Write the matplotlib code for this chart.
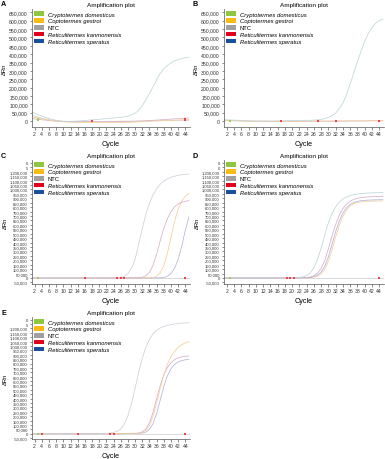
import matplotlib
matplotlib.use("Agg")
import matplotlib.pyplot as plt
from matplotlib.patches import Patch
import numpy as np

plt.rcParams['font.family'] = ['Liberation Sans', 'DejaVu Sans']

# ---------------- data ----------------
cycles = list(range(1, 46))
x_ticks = list(range(2, 45, 2))

legend_labels = ['Cryptotermes domesticus', 'Coptotermes gestroi', 'NTC',
                 'Reticulitermes kanmonensis', 'Reticulitermes speratus']

# Panel A
A_teal = [55000, 48000, 38000, 30000, 22000, 15000, 10000, 5000, 2000, 0,
          -1000, -1000, 0, 1000, 2000, 4000, 6000, 8000, 10000, 11000,
          13000, 15000, 17000, 19000, 21000, 23000, 26000, 30000, 38000, 48000,
          65000, 92000, 128000, 165000, 205000, 248000, 285000, 312000, 333000, 348000,
          360000, 368000, 374000, 379000, 382000]
A_orange = [25000, 22000, 18000, 14000, 10000, 6000, 3000, 0, -2000, -4000,
            -5000, -6000, -7000, -7000, -8000, -8000, -9000, -9000, -9000, -9000,
            -9000, -9000, -9000, -8000, -8000, -8000, -7000, -7000, -6000, -5000,
            -4000, -3000, -2000, -1000, 0, 1000, 2000, 3000, 4000, 5000,
            6000, 7000, 8000, 9000, 10000]
A_purple = [15000, 13000, 11000, 8000, 6000, 4000, 2000, 0, -1000, -2000,
            -3000, -3000, -4000, -4000, -4000, -4000, -4000, -4000, -4000, -4000,
            -4000, -4000, -3000, -3000, -3000, -2000, -2000, -2000, -1000, -1000,
            0, 1000, 2000, 3000, 5000, 6000, 8000, 9000, 11000, 12000,
            14000, 15000, 17000, 18000, 19000]
A_gray = [35000, 30000, 24000, 18000, 13000, 9000, 5000, 2000, 0, -2000,
          -3000, -3000, -3000, -3000, -3000, -3000, -2000, -2000, -2000, -2000,
          -2000, -1000, -1000, -1000, -1000, 0, 0, 0, 0, 0,
          1000, 1000, 1000, 2000, 2000, 2000, 3000, 3000, 3000, 4000,
          4000, 4000, 5000, 5000, 5000]
A_mark_green_x = [3, 3]
A_mark_green_y = [15000, 5000]
A_mark_red_x = [18, 44, 44]
A_mark_red_y = [0, 12000, 6000]

# Panel B
B_teal = [9000, 8000, 7000, 6000, 5000, 4000, 3000, 2000, 2000, 1000,
          1000, 1000, 1000, 1000, 1000, 2000, 2000, 2000, 3000, 3000,
          3000, 4000, 4000, 5000, 5000, 6000, 8000, 11000, 15000, 22000,
          33000, 48000, 75000, 108000, 160000, 222000, 290000, 355000, 420000, 478000,
          525000, 560000, 585000, 600000, 610000]
B_orange = [6000, 5000, 4000, 3000, 2000, 1000, 0, -1000, -2000, -2000,
            -3000, -3000, -3000, -3000, -3000, -3000, -2000, -2000, -2000, -1000,
            -1000, -1000, 0, 0, 0, 0, 0, 0, 0, 0,
            0, 0, 1000, 1000, 1000, 1000, 2000, 2000, 2000, 2000,
            3000, 3000, 3000, 3000, 3000]
B_purple = [4000, 3000, 3000, 2000, 2000, 1000, 1000, 0, 0, 0,
            0, 0, -1000, -1000, -1000, -1000, -1000, -1000, -1000, -1000,
            -1000, -1000, -1000, 0, 0, 0, 0, 0, 0, 0,
            0, 0, 0, 0, 1000, 1000, 1000, 1000, 1000, 1000,
            1000, 2000, 2000, 2000, 2000]
B_mark_green_x = [3]
B_mark_green_y = [0]
B_mark_red_x = [17, 27, 32, 44]
B_mark_red_y = [0, 0, 0, 0]

# Panel C
C_gray = [0, 0, 0, 0, 0, 0, 0, 0, 0, 0,
          0, 0, 0, 0, 0, 0, 0, 0, 0, 0,
          1000, 1000, 2000, 2000, 3000, 8000, 20000, 50000, 110000, 210000,
          380000, 560000, 720000, 845000, 940000, 1010000, 1060000, 1095000, 1120000, 1138000,
          1150000, 1160000, 1166000, 1171000, 1175000]
C_pink = [0, 0, 0, 0, 0, 0, 0, 0, 0, 0,
          0, 0, 0, 0, 0, 0, 0, 0, 0, 0,
          0, 0, 0, 0, 0, 0, 0, 1000, 2000, 3000,
          4000, 8000, 25000, 65000, 145000, 270000, 420000, 560000, 670000, 750000,
          805000, 838000, 856000, 867000, 873000]
C_orange = [0, 0, 0, 0, 0, 0, 0, 0, 0, 0,
            0, 0, 0, 0, 0, 0, 0, 0, 0, 0,
            0, 0, 0, 0, 0, 0, 0, 0, 0, 0,
            1000, 1000, 2000, 3000, 5000, 20000, 60000, 140000, 280000, 460000,
            640000, 780000, 870000, 925000, 955000]
C_blue = [0, 0, 0, 0, 0, 0, 0, 0, 0, 0,
          0, 0, 0, 0, 0, 0, 0, 0, 0, 0,
          0, 0, 0, 0, 0, 0, 0, 0, 0, 0,
          0, 0, 0, 0, 1000, 2000, 3000, 5000, 20000, 50000,
          110000, 210000, 360000, 540000, 690000]
C_base = [0] * 45
C_mark_green_x = [3]
C_mark_green_y = [0]
C_mark_red_x = [16, 25, 26, 27, 44]
C_mark_red_y = [0, 0, 0, 0, 0]

# Panel D
D_teal = [0, 0, 0, 0, 0, 0, 0, 0, 0, 0,
          0, 0, 0, 0, 0, 0, 0, 0, 0, 1000,
          2000, 5000, 12000, 27000, 57000, 115000, 210000, 340000, 490000, 625000,
          730000, 805000, 858000, 893000, 916000, 932000, 942000, 949000, 954000, 958000,
          960000, 962000, 963000, 964000, 965000]
D_pink = [0, 0, 0, 0, 0, 0, 0, 0, 0, 0,
          0, 0, 0, 0, 0, 0, 0, 0, 0, 0,
          1000, 2000, 3000, 5000, 12000, 25000, 55000, 110000, 200000, 330000,
          475000, 605000, 710000, 785000, 835000, 868000, 888000, 900000, 908000, 913000,
          916000, 918000, 920000, 921000, 922000]
D_blue = [0, 0, 0, 0, 0, 0, 0, 0, 0, 0,
          0, 0, 0, 0, 0, 0, 0, 0, 0, 0,
          0, 1000, 2000, 3000, 6000, 15000, 32000, 68000, 135000, 240000,
          380000, 525000, 645000, 735000, 795000, 832000, 853000, 866000, 873000, 877000,
          880000, 882000, 883000, 884000, 885000]
D_orange = [0, 0, 0, 0, 0, 0, 0, 0, 0, 0,
            0, 0, 0, 0, 0, 0, 0, 0, 0, 0,
            0, 1000, 1000, 2000, 4000, 10000, 22000, 48000, 100000, 190000,
            320000, 465000, 595000, 700000, 770000, 815000, 840000, 853000, 860000, 864000,
            867000, 868000, 869000, 870000, 871000]
D_base = [0] * 45
D_mark_green_x = [3]
D_mark_green_y = [0]
D_mark_red_x = [18.5, 19.5, 20.5, 44]
D_mark_red_y = [0, 0, 0, 0]

# Panel E
E_gray = [0, 0, 0, 0, 0, 0, 0, 0, 0, 0,
          0, 0, 0, 0, 0, 0, 0, 0, 0, 1000,
          2000, 3000, 8000, 15000, 28000, 55000, 110000, 205000, 345000, 520000,
          700000, 860000, 985000, 1075000, 1140000, 1180000, 1205000, 1222000, 1235000, 1244000,
          1251000, 1256000, 1260000, 1263000, 1265000]
E_orange = [0, 0, 0, 0, 0, 0, 0, 0, 0, 0,
            0, 0, 0, 0, 0, 0, 0, 0, 0, 0,
            0, 0, 0, 0, 0, 1000, 1000, 2000, 2000, 3000,
            5000, 15000, 40000, 95000, 200000, 350000, 520000, 670000, 790000, 880000,
            940000, 985000, 1015000, 1035000, 1048000]
E_pink = [0, 0, 0, 0, 0, 0, 0, 0, 0, 0,
          0, 0, 0, 0, 0, 0, 0, 0, 0, 0,
          0, 0, 0, 0, 0, 1000, 2000, 3000, 4000, 5000,
          8000, 22000, 55000, 125000, 245000, 400000, 550000, 670000, 755000, 810000,
          845000, 865000, 876000, 882000, 886000]
E_blue = [0, 0, 0, 0, 0, 0, 0, 0, 0, 0,
          0, 0, 0, 0, 0, 0, 0, 0, 0, 0,
          0, 0, 0, 0, 0, 0, 1000, 1000, 2000, 3000,
          5000, 8000, 20000, 50000, 115000, 230000, 385000, 540000, 660000, 740000,
          790000, 818000, 833000, 842000, 848000]
E_base = [0] * 45
E_mark_green_x = [3]
E_mark_green_y = [0]
E_mark_red_x = [4, 14, 23, 24, 44]
E_mark_red_y = [0, 0, 0, 0, 0]

# y ticks
small_yticks = list(range(0, 650001, 50000))
big_yticks = list(range(-50000, 1300001, 50000))
big_top_labels_C = ['5', '0']
big_top_labels_D = ['0', '0']
big_top_labels_E = ['5', '0']

# ---------------- styling ----------------
c_teal = '#bfd6d8'
c_pink = '#d6afcb'
c_orange = '#f5cd98'
c_blue = '#b3b3de'
c_gray = '#d0d0d0'
c_graycurve = '#cbd1d9'
leg_colors = ['#8dc63f', '#fcb813', '#a0a0a0', '#e3001b', '#1a4f9e']

W, H = 385, 460
fig = plt.figure(figsize=(W / 100, H / 100), dpi=100)


def rect(l, t, r, b):
    return [l / W, 1 - b / H, (r - l) / W, (b - t) / H]


def fmt(v):
    return f"{v:,}"


def setup(ax, ylim, yticks, ylabels, tick_fs):
    ax.set_xlim(1.25, 45.3)
    ax.set_ylim(*ylim)
    ax.set_xticks(x_ticks)
    ax.set_xticklabels([str(t) for t in x_ticks], fontsize=3.7)
    ax.set_yticks(yticks)
    ax.set_yticklabels(ylabels, fontsize=tick_fs)
    for s in ['top', 'right']:
        ax.spines[s].set_visible(False)
    for s in ['left', 'bottom']:
        ax.spines[s].set_linewidth(0.5)
        ax.spines[s].set_color('#555555')
    ax.tick_params(axis='both', length=1.8, width=0.4, pad=1.2, colors='#333333')
    ax.set_title('Amplification plot', fontsize=4.6, pad=2.0)
    ax.set_xlabel('Cycle', fontsize=5.2, labelpad=2.5)
    ax.set_ylabel('ΔRn', fontsize=4.2, labelpad=1.5)
    handles = [Patch(facecolor=c, edgecolor='none') for c in leg_colors]
    leg = ax.legend(handles, legend_labels, loc='upper left', bbox_to_anchor=(0.0, 1.0),
                    frameon=False, fontsize=4.2, handlelength=1.6, handleheight=0.8,
                    handletextpad=0.7, labelspacing=0.28, borderaxespad=0.25,
                    borderpad=0.15)
    for t in leg.get_texts():
        if t.get_text() != 'NTC':
            t.set_style('italic')


def markers(ax, gx, gy, rx, ry):
    ax.plot(gx, gy, 's', color='#9acd5a', markersize=1.9, markeredgewidth=0, zorder=5)
    ax.plot(rx, ry, 's', color='#e8424a', markersize=1.9, markeredgewidth=0, zorder=5)


lw = 0.55

# A
axA = fig.add_axes(rect(32, 10, 190, 128))
for ys, c in [(A_gray, c_gray), (A_purple, c_pink), (A_orange, c_orange), (A_teal, c_teal)]:
    axA.plot(cycles, ys, color=c, lw=lw)
markers(axA, A_mark_green_x, A_mark_green_y, A_mark_red_x, A_mark_red_y)
setup(axA, (-35000, 670000), small_yticks, [fmt(v) for v in small_yticks], 3.7)

# B
axB = fig.add_axes(rect(224, 10, 384, 128))
for ys, c in [(B_purple, c_pink), (B_orange, c_orange), (B_teal, c_teal)]:
    axB.plot(cycles, ys, color=c, lw=lw)
markers(axB, B_mark_green_x, B_mark_green_y, B_mark_red_x, B_mark_red_y)
setup(axB, (-35000, 670000), small_yticks, [fmt(v) for v in small_yticks], 3.7)

# C
axC = fig.add_axes(rect(32, 161, 190, 285))
for ys, c in [(C_base, c_gray), (C_blue, c_blue), (C_orange, c_orange), (C_pink, c_pink), (C_gray, c_graycurve)]:
    axC.plot(cycles, ys, color=c, lw=lw)
markers(axC, C_mark_green_x, C_mark_green_y, C_mark_red_x, C_mark_red_y)
labsC = [fmt(v) for v in big_yticks[:-2]] + big_top_labels_C
setup(axC, (-68000, 1333000), big_yticks, labsC, 3.0)

# D
axD = fig.add_axes(rect(224, 161, 384, 285))
for ys, c in [(D_base, c_gray), (D_orange, c_orange), (D_blue, c_blue), (D_pink, c_pink), (D_teal, c_teal)]:
    axD.plot(cycles, ys, color=c, lw=lw)
markers(axD, D_mark_green_x, D_mark_green_y, D_mark_red_x, D_mark_red_y)
labsD = [fmt(v) for v in big_yticks[:-2]] + big_top_labels_D
setup(axD, (-68000, 1333000), big_yticks, labsD, 3.0)

# E
axE = fig.add_axes(rect(32, 318, 190, 440))
for ys, c in [(E_base, c_gray), (E_blue, c_blue), (E_pink, c_pink), (E_orange, c_orange), (E_gray, c_graycurve)]:
    axE.plot(cycles, ys, color=c, lw=lw)
markers(axE, E_mark_green_x, E_mark_green_y, E_mark_red_x, E_mark_red_y)
labsE = [fmt(v) for v in big_yticks[:-2]] + big_top_labels_E
setup(axE, (-60000, 1330000), big_yticks, labsE, 3.0)

# panel letters
for letter, (px, py) in {'A': (1, 4), 'B': (193, 4), 'C': (1, 157), 'D': (193, 157), 'E': (1, 314)}.items():
    fig.text(px / W, 1 - py / H, letter, fontsize=5.2, fontweight='bold', va='center', ha='left')

fig.savefig('out.png', dpi=100)
